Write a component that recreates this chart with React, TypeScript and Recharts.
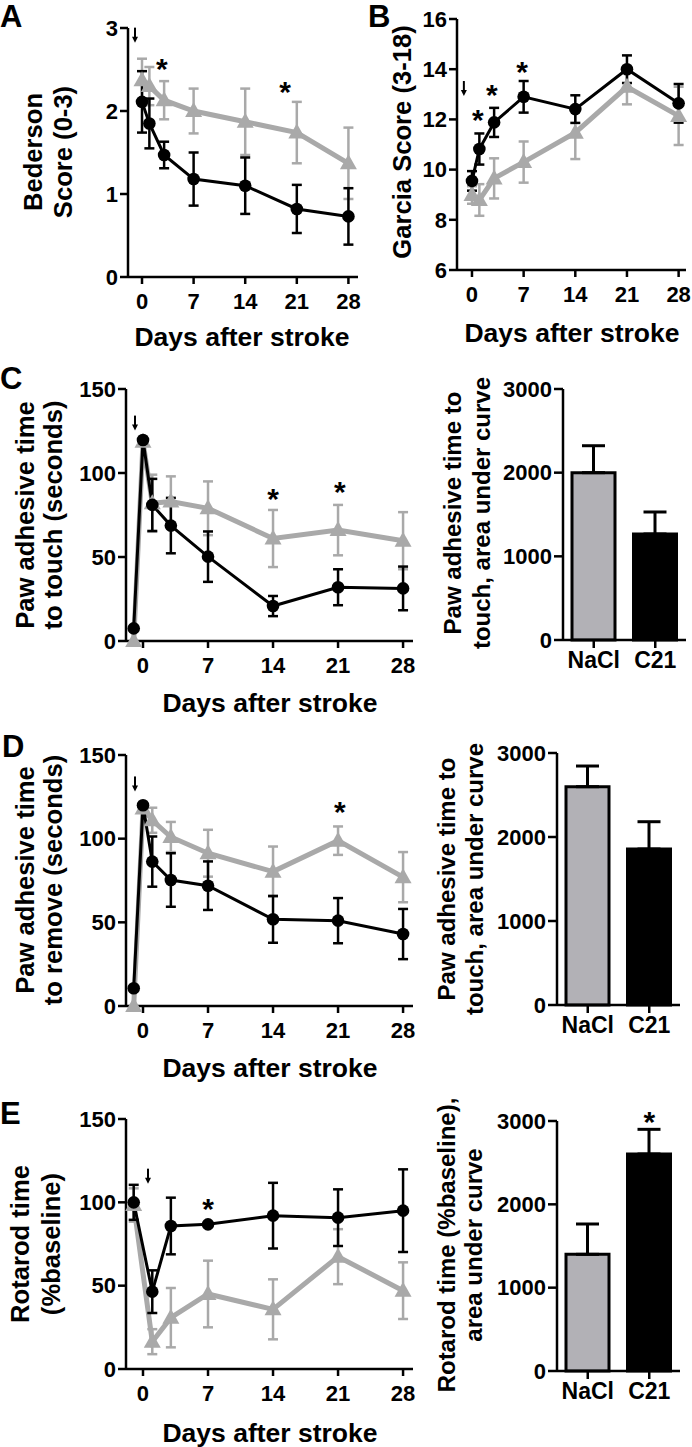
import React from 'react';
import { LineChart, Line, XAxis, YAxis, ErrorBar, ReferenceDot, BarChart, Bar, Cell } from 'recharts';

// time points (days after stroke, -1 = pre-stroke baseline)
const neuroDays = [0, 1, 3, 7, 14, 21, 28];
const adhesiveDays = [-1, 0, 1, 3, 7, 14, 21, 28];
const rotarodDays = [-1, 1, 3, 7, 14, 21, 28];
const dayTicks = [0, 7, 14, 21, 28];

// A: Bederson score
const bedersonNaCl = [2.37, 2.3, 2.13, 2.0, 1.87, 1.74, 1.37];
const bedersonNaClErr = [0.26, 0.23, 0.23, 0.27, 0.4, 0.37, 0.43];
const bedersonC21 = [2.11, 1.85, 1.47, 1.18, 1.1, 0.82, 0.73];
const bedersonC21Err = [0.37, 0.3, 0.16, 0.32, 0.34, 0.29, 0.34];

// B: Garcia score
const garciaNaCl = [8.99, 8.79, 9.65, 10.3, 11.47, 13.3, 12.14];
const garciaNaClErr = [0.35, 0.63, 0.8, 0.82, 1.05, 0.7, 1.16];
const garciaC21 = [9.55, 10.82, 11.88, 12.9, 12.41, 14.0, 12.64];
const garciaC21Err = [0.39, 0.62, 0.58, 0.63, 0.55, 0.55, 0.77];

// C: adhesive time to touch
const touchNaCl = [0, 118.6, 82, 83, 79, 61, 66, 59.7];
const touchNaClErr = [0, 0, 17, 15, 16, 17, 15, 17];
const touchC21 = [7.5, 119.6, 81, 68.7, 50.2, 20.8, 32, 31.3];
const touchC21Err = [0, 0, 15.5, 16.5, 15, 6, 10.7, 13];

// D: adhesive time to remove
const removeNaCl = [0, 118, 111, 101, 91.3, 80.3, 98.8, 77];
const removeNaClErr = [0, 0, 7.5, 9, 14, 15, 8.5, 15];
const removeC21 = [10.6, 120, 86.3, 75.3, 71.9, 51.8, 51, 43];
const removeC21Err = [0, 0, 15, 16, 14.5, 14, 13.5, 15];

// E: rotarod
const rotarodNaCl = [98.4, 16.4, 30.8, 45, 35.8, 67.4, 47];
const rotarodNaClErr = [10, 7.5, 17.8, 20, 18, 16.5, 17];
const rotarodC21 = [100, 46.4, 85.8, 86.8, 92, 90.8, 95];
const rotarodC21Err = [10.5, 12.8, 17, 1, 19.7, 17, 24.8];

// area under curve bars
const groups = ['NaCl', 'C21'];
const touchAuc = [2000, 1267];
const touchAucErr = [322, 263];
const removeAuc = [2599, 1857];
const removeAucErr = [246, 325];
const rotarodAuc = [1400, 2604];
const rotarodAucErr = [364, 296];

const FONT = '"Liberation Sans", Arial, Helvetica, sans-serif';
const GREY = '#a9a9a9';
const BAR_GREY = '#b2b1b6';
const Y_AXIS_W = 72;
const TOP_PAD = 16;
const RIGHT_PAD = 6;
const X_AXIS_H = 50;

const tickStyle = { fontSize: 22, fontWeight: 700, fill: '#000', fontFamily: FONT };
const barTickStyle = { ...tickStyle, fontSize: 23 };
const axisLine = { stroke: '#000', strokeWidth: 2.5 };

function frame(l: number, t: number, r: number, b: number) {
  return {
    style: { position: 'absolute' as const, left: l - Y_AXIS_W, top: t - TOP_PAD },
    width: Y_AXIS_W + (r - l) + RIGHT_PAD,
    height: TOP_PAD + (b - t) + X_AXIS_H,
  };
}

function rows(days: number[], nacl: number[], naclErr: number[], c21: number[], c21Err: number[]) {
  return days.map((day, i) => ({ day, nacl: nacl[i], naclErr: naclErr[i], c21: c21[i], c21Err: c21Err[i] }));
}

const triangle = (p: any) => (
  <polygon
    key={`tri-${p.index}`}
    points={`${p.cx},${p.cy - 9} ${p.cx - 8.5},${p.cy + 6} ${p.cx + 8.5},${p.cy + 6}`}
    fill={GREY}
  />
);

const star = (p: any) => (
  <text x={p.cx} y={p.cy + 17} textAnchor="middle" fontSize={30} fontWeight={700} fontFamily={FONT} fill="#000">
    *
  </text>
);

const arrow = (p: any) => (
  <g>
    <line x1={p.cx} y1={p.cy - 7} x2={p.cx} y2={p.cy + 3} stroke="#000" strokeWidth={2} />
    <polygon points={`${p.cx - 3},${p.cy + 2} ${p.cx + 3},${p.cy + 2} ${p.cx},${p.cy + 8}`} fill="#000" />
  </g>
);

interface LinePanelProps {
  data: any[];
  box: [number, number, number, number];
  xDomain: [number, number];
  yDomain: [number, number];
  yTicks: number[];
  stars: { x: number; y: number }[];
  mark: { x: number; y: number };
}

function LinePanel({ data, box, xDomain, yDomain, yTicks, stars, mark }: LinePanelProps) {
  const f = frame(...box);
  return (
    <div style={f.style}>
      <LineChart width={f.width} height={f.height} data={data} margin={{ top: TOP_PAD, right: RIGHT_PAD, bottom: 0, left: 0 }}>
        <XAxis
          type="number"
          dataKey="day"
          domain={xDomain}
          ticks={dayTicks}
          interval={0}
          height={X_AXIS_H}
          tickSize={7}
          tickMargin={9}
          axisLine={axisLine}
          tickLine={axisLine}
          tick={tickStyle}
        />
        <YAxis
          domain={yDomain}
          ticks={yTicks}
          interval={0}
          width={Y_AXIS_W}
          tickSize={8}
          tickMargin={2}
          axisLine={axisLine}
          tickLine={axisLine}
          tick={tickStyle}
        />
        <Line type="linear" dataKey="nacl" stroke={GREY} strokeWidth={5} dot={triangle} activeDot={false} isAnimationActive={false}>
          <ErrorBar dataKey="naclErr" direction="y" width={5} stroke={GREY} strokeWidth={2.5} />
        </Line>
        <Line
          type="linear"
          dataKey="c21"
          stroke="#000"
          strokeWidth={3}
          dot={{ r: 6.3, fill: '#000', stroke: '#000', strokeWidth: 0 }}
          activeDot={false}
          isAnimationActive={false}
        >
          <ErrorBar dataKey="c21Err" direction="y" width={5} stroke="#000" strokeWidth={2.5} />
        </Line>
        {stars.map((s, i) => (
          <ReferenceDot key={i} x={s.x} y={s.y} r={0} ifOverflow="visible" shape={star} />
        ))}
        <ReferenceDot x={mark.x} y={mark.y} r={0} ifOverflow="visible" shape={arrow} />
      </LineChart>
    </div>
  );
}

interface BarPanelProps {
  values: number[];
  errs: number[];
  box: [number, number, number, number];
  starOn?: string;
}

function BarPanel({ values, errs, box, starOn }: BarPanelProps) {
  const f = frame(...box);
  const data = groups.map((name, i) => ({ name, value: values[i], err: [0, errs[i]] }));
  return (
    <div style={f.style}>
      <BarChart width={f.width} height={f.height} data={data} margin={{ top: TOP_PAD, right: RIGHT_PAD, bottom: 0, left: 0 }}>
        <XAxis
          dataKey="name"
          interval={0}
          height={X_AXIS_H}
          tickSize={8}
          tickMargin={4}
          axisLine={axisLine}
          tickLine={axisLine}
          tick={barTickStyle}
        />
        <YAxis
          domain={[0, 3000]}
          ticks={[0, 1000, 2000, 3000]}
          interval={0}
          width={Y_AXIS_W}
          tickSize={9}
          tickMargin={2}
          axisLine={axisLine}
          tickLine={axisLine}
          tick={tickStyle}
        />
        <Bar dataKey="value" barSize={43} stroke="#000" strokeWidth={3} isAnimationActive={false}>
          {data.map((d, i) => (
            <Cell key={d.name} fill={i === 0 ? BAR_GREY : '#000'} />
          ))}
          <ErrorBar dataKey="err" direction="y" width={11.5} stroke="#000" strokeWidth={3} />
        </Bar>
        {starOn && <ReferenceDot x={starOn} y={3072} r={0} ifOverflow="visible" shape={star} />}
      </BarChart>
    </div>
  );
}

function Letter({ ch, left, top }: { ch: string; left: number; top: number }) {
  return (
    <div style={{ position: 'absolute', left, top, fontSize: 31, lineHeight: 1, fontWeight: 700, fontFamily: FONT }}>{ch}</div>
  );
}

function XTitle({ cx, cy }: { cx: number; cy: number }) {
  return (
    <div
      style={{
        position: 'absolute', left: cx, top: cy, transform: 'translate(-50%, -50%)',
        fontSize: 26.5, fontWeight: 700, fontFamily: FONT, whiteSpace: 'nowrap', lineHeight: 1,
      }}
    >
      Days after stroke
    </div>
  );
}

function YTitle({ lines, cx, cy, size = 25.6, lh = 29 }: { lines: string[]; cx: number; cy: number; size?: number; lh?: number }) {
  return (
    <div
      style={{
        position: 'absolute', left: cx, top: cy, transform: 'translate(-50%, -50%) rotate(-90deg)',
        fontSize: size, lineHeight: `${lh}px`, fontWeight: 700, fontFamily: FONT, whiteSpace: 'nowrap', textAlign: 'center',
      }}
    >
      {lines.map((t) => (
        <div key={t}>{t}</div>
      ))}
    </div>
  );
}

export default function App() {
  return (
    <div style={{ position: 'absolute', left: 0, top: 0, width: 692, height: 1447, overflow: 'hidden', background: '#fff' }}>
      <LinePanel
        data={rows(neuroDays, bedersonNaCl, bedersonNaClErr, bedersonC21, bedersonC21Err)}
        box={[128, 28, 358, 277]}
        xDomain={[-1.9, 29.3]}
        yDomain={[0, 3]}
        yTicks={[0, 1, 2, 3]}
        stars={[{ x: 2.7, y: 2.59 }, { x: 19.4, y: 2.31 }]}
        mark={{ x: -0.95, y: 2.92 }}
      />
      <LinePanel
        data={rows(neuroDays, garciaNaCl, garciaNaClErr, garciaC21, garciaC21Err)}
        box={[457, 19, 686, 270]}
        xDomain={[-2.03, 29]}
        yDomain={[6, 16]}
        yTicks={[6, 8, 10, 12, 14, 16]}
        stars={[{ x: 0.8, y: 12.25 }, { x: 2.7, y: 13.25 }, { x: 6.8, y: 14.17 }]}
        mark={{ x: -1.1, y: 13.25 }}
      />
      <LinePanel
        data={rows(adhesiveDays, touchNaCl, touchNaClErr, touchC21, touchC21Err)}
        box={[126, 389, 413, 641]}
        xDomain={[-1.83, 29.07]}
        yDomain={[0, 150]}
        yTicks={[0, 50, 100, 150]}
        stars={[{ x: 14, y: 88.7 }, { x: 21.2, y: 92.9 }]}
        mark={{ x: -0.86, y: 130 }}
      />
      <LinePanel
        data={rows(adhesiveDays, removeNaCl, removeNaClErr, removeC21, removeC21Err)}
        box={[126, 755, 413, 1006]}
        xDomain={[-1.83, 29.07]}
        yDomain={[0, 150]}
        yTicks={[0, 50, 100, 150]}
        stars={[{ x: 21.2, y: 120 }]}
        mark={{ x: -0.86, y: 133 }}
      />
      <LinePanel
        data={rows(rotarodDays, rotarodNaCl, rotarodNaClErr, rotarodC21, rotarodC21Err)}
        box={[126, 1119, 413, 1369]}
        xDomain={[-1.83, 29.07]}
        yDomain={[0, 150]}
        yTicks={[0, 50, 100, 150]}
        stars={[{ x: 7, y: 100 }]}
        mark={{ x: 0.54, y: 116 }}
      />
      <BarPanel values={touchAuc} errs={touchAucErr} box={[563, 389, 686, 640]} />
      <BarPanel values={removeAuc} errs={removeAucErr} box={[557, 753, 680, 1005]} />
      <BarPanel values={rotarodAuc} errs={rotarodAucErr} box={[557, 1121, 680, 1371]} starOn="C21" />

      <Letter ch="A" left={0} top={1} />
      <Letter ch="B" left={368} top={1} />
      <Letter ch="C" left={0} top={363} />
      <Letter ch="D" left={2} top={731} />
      <Letter ch="E" left={0} top={1098} />

      <YTitle lines={['Bederson', 'Score (0-3)']} cx={48} cy={152} lh={30} />
      <YTitle lines={['Garcia Score (3-18)']} cx={402} cy={142} />
      <YTitle lines={['Paw adhesive time', 'to touch (seconds)']} cx={39} cy={515} lh={28} />
      <YTitle lines={['Paw adhesive time', 'to remove (seconds)']} cx={39} cy={880} lh={28} />
      <YTitle lines={['Rotarod time', '(%baseline)']} cx={36} cy={1244} lh={31} />
      <YTitle lines={['Paw adhesive time to', 'touch, area under curve']} cx={467} cy={513} size={24} lh={29} />
      <YTitle lines={['Paw adhesive time to', 'touch, area under curve']} cx={461} cy={879} size={24} lh={28} />
      <YTitle lines={['Rotarod time (%baseline),', 'area under curve']} cx={460} cy={1245} size={24} lh={27} />

      <XTitle cx={242} cy={337} />
      <XTitle cx={572} cy={333} />
      <XTitle cx={270} cy={703} />
      <XTitle cx={270} cy={1068} />
      <XTitle cx={270} cy={1433} />
    </div>
  );
}
